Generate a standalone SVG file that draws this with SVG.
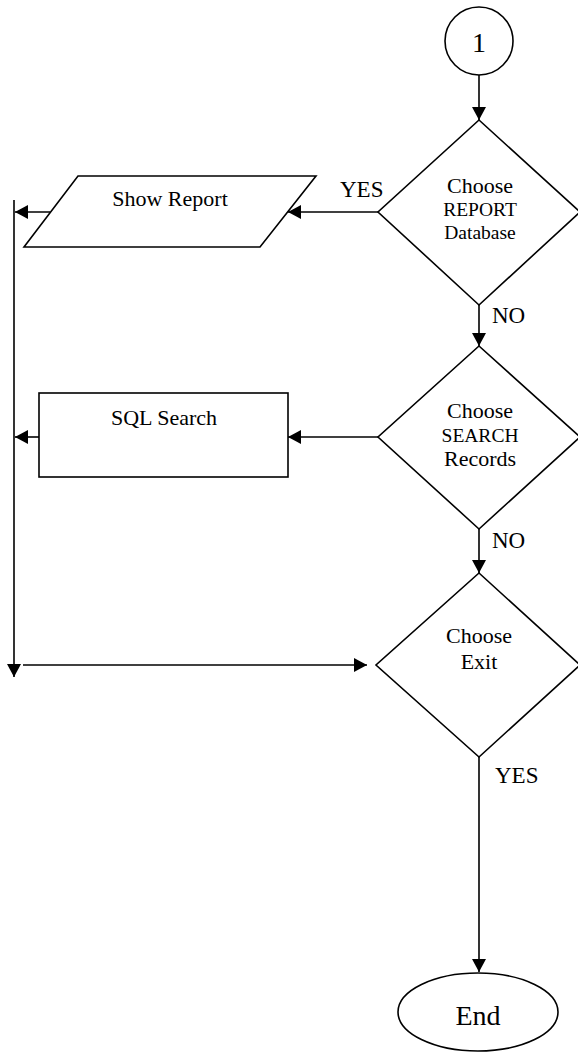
<svg xmlns="http://www.w3.org/2000/svg" width="578" height="1063" viewBox="0 0 578 1063">
  <defs>
    <marker id="arrow" markerUnits="userSpaceOnUse" markerWidth="14" markerHeight="14" refX="13" refY="7" orient="auto">
      <path d="M0,0 L13,7 L0,14 Z" fill="#000"/>
    </marker>
  </defs>
  <style>
    .shape { fill: #fff; stroke: #000; stroke-width: 1.6; }
    .conn { fill: none; stroke: #000; stroke-width: 1.6; }
    .arr { marker-end: url(#arrow); }
    text { font-family: "Liberation Serif", "Times New Roman", serif; fill: #000; }
    .c { text-anchor: middle; }
    .t22 { font-size: 22px; }
    .t19 { font-size: 19.5px; }
    .lbl { font-size: 23px; }
  </style>
  <rect width="578" height="1063" fill="#fff"/>

  <!-- connectors -->
  <g id="connectors">
    <line class="conn arr" x1="479" y1="75" x2="479" y2="120"/>
    <line class="conn arr" x1="378" y1="212" x2="288" y2="212"/>
    <line class="conn arr" x1="50" y1="212" x2="15" y2="212"/>
    <line class="conn arr" x1="479" y1="305" x2="479" y2="346"/>
    <line class="conn arr" x1="378" y1="437" x2="288" y2="437"/>
    <line class="conn arr" x1="39" y1="437" x2="15" y2="437"/>
    <line class="conn arr" x1="479" y1="529" x2="479" y2="573"/>
    <line class="conn arr" x1="14" y1="200" x2="14" y2="677"/>
    <line class="conn arr" x1="23" y1="665" x2="367" y2="665"/>
    <line class="conn arr" x1="479" y1="757" x2="479" y2="972"/>
    <text class="lbl" x="340" y="197">YES</text>
    <text class="lbl" x="492" y="323">NO</text>
    <text class="lbl" x="492" y="548">NO</text>
    <text class="lbl" x="495" y="783">YES</text>
  </g>

  <!-- connector 1 -->
  <g id="start">
    <circle class="shape" cx="479" cy="41" r="34"/>
    <text class="c" x="479" y="52" font-size="28">1</text>
  </g>

  <g id="choose-report">
    <polygon class="shape" points="479,120 580,212 479,305 378,212"/>
    <text class="c t22" x="480" y="193">Choose</text>
    <text class="c t19" x="480" y="216">REPORT</text>
    <text class="c t19" x="480" y="239">Database</text>
  </g>

  <g id="show-report">
    <polygon class="shape" points="78,176 316,176 260,247 24,247"/>
    <text class="c t22" x="170" y="206">Show Report</text>
  </g>

  <g id="choose-search">
    <polygon class="shape" points="479,346 580,437 479,529 378,437"/>
    <text class="c t22" x="480" y="418">Choose</text>
    <text class="c t19" x="480" y="442">SEARCH</text>
    <text class="c t22" x="480" y="466">Records</text>
  </g>

  <g id="sql-search">
    <rect class="shape" x="39" y="393" width="249" height="84"/>
    <text class="c t22" x="164" y="425">SQL Search</text>
  </g>

  <g id="choose-exit">
    <polygon class="shape" points="479,573 580,665 479,757 376,665"/>
    <text class="c t22" x="479" y="643">Choose</text>
    <text class="c t22" x="479" y="669">Exit</text>
  </g>

  <g id="end">
    <ellipse class="shape" cx="478" cy="1012" rx="80" ry="39"/>
    <text class="c" x="478" y="1025" font-size="28">End</text>
  </g>
</svg>
